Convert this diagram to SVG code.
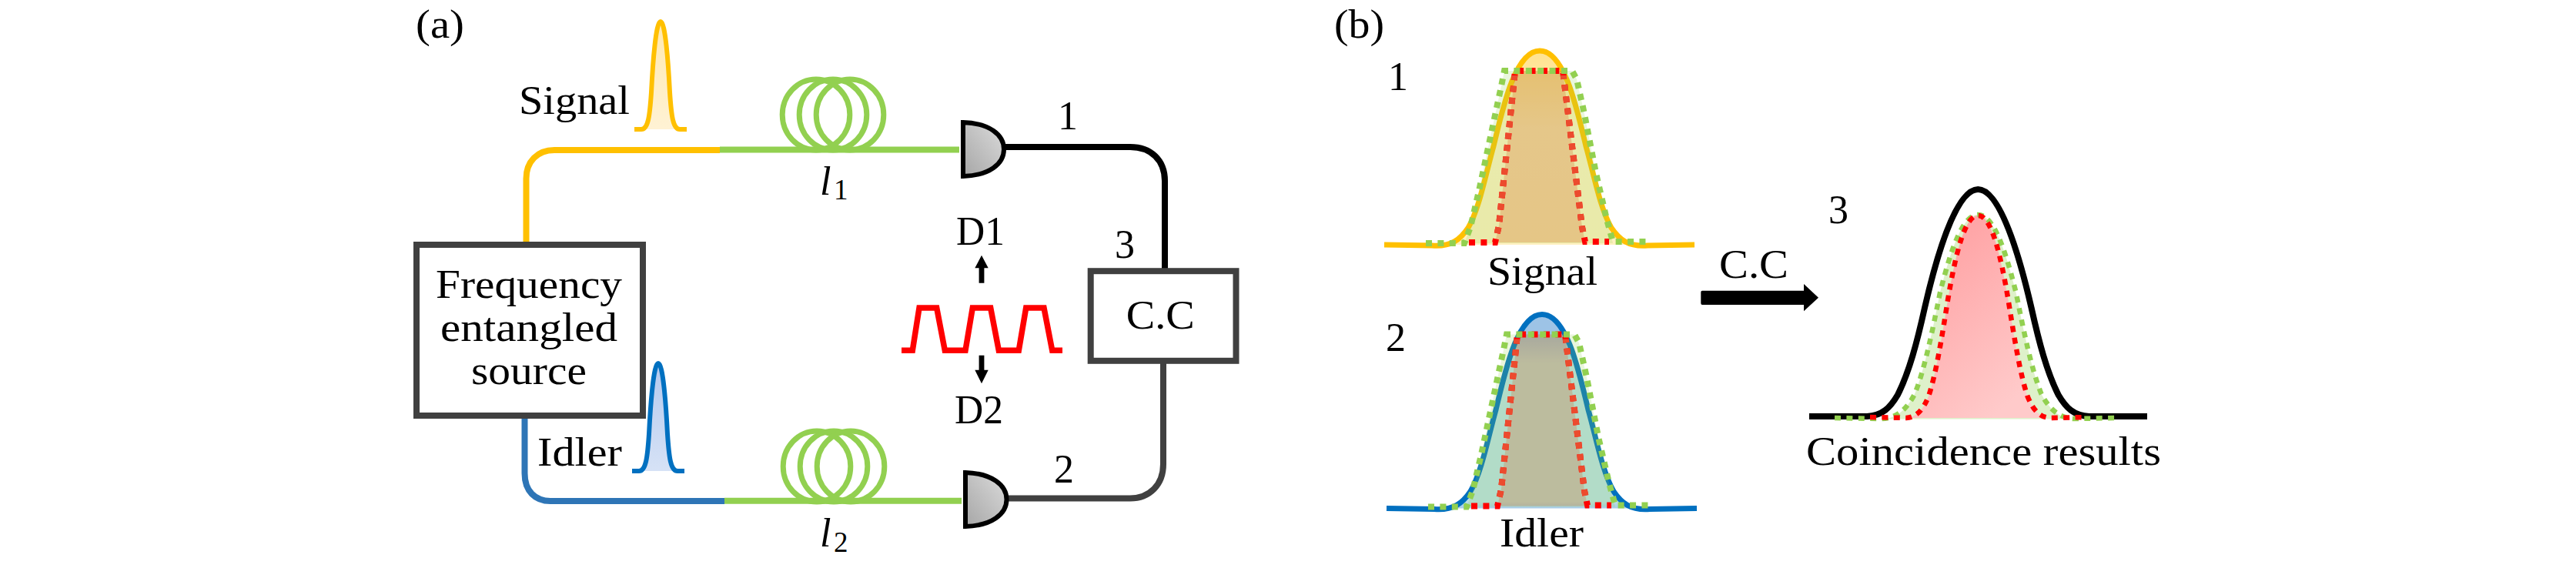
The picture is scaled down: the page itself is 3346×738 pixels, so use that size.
<svg xmlns="http://www.w3.org/2000/svg" width="3346" height="738" viewBox="0 0 3346 738">
<style>
text{font-family:"Liberation Serif","Times New Roman",serif;font-size:52px;fill:#000}
.sub{font-size:37px}
.it{font-style:italic}
.box{fill:#fff;stroke:#404040;stroke-width:8}
.ln{fill:none;stroke-width:8}
.coil{fill:none;stroke:#92d050;stroke-width:7}
.det{fill:url(#gDet);stroke:#000;stroke-width:6}
.gd{fill:none;stroke:#92d050;stroke-width:8;stroke-dasharray:8 7.4}
.rd{fill:none;stroke:#f00;stroke-width:8;stroke-dasharray:8 7.4}
.or{fill:none;stroke:#ec4b2e;stroke-width:8;stroke-dasharray:8 7.4}
.gf{fill:#92d050;fill-opacity:.2;stroke:none}
.rf{fill:#da5a20;fill-opacity:.25;stroke:none}
</style>
<defs>
<linearGradient id="gDet" x1="0" y1="1" x2="1" y2="0"><stop offset="0" stop-color="#a6a6a6"/><stop offset="1" stop-color="#dcdcdc"/></linearGradient>
<linearGradient id="gY" x1="0" y1="0" x2="0" y2="1"><stop offset="0" stop-color="#ffe28f"/><stop offset=".4" stop-color="#fff2c4"/><stop offset="1" stop-color="#fff0c0"/></linearGradient>
<linearGradient id="gB" x1="0" y1="0" x2="0" y2="1"><stop offset="0" stop-color="#9dc3e6"/><stop offset=".12" stop-color="#9dc3e6"/><stop offset=".25" stop-color="#bbdfe6"/><stop offset=".96" stop-color="#bbdfe6"/><stop offset="1" stop-color="#a4c8ea"/></linearGradient>
<linearGradient id="gPY" x1="0" y1="0" x2="0" y2="1"><stop offset="0" stop-color="#ffe9b0"/><stop offset="1" stop-color="#fff2d4"/></linearGradient>
<linearGradient id="gPB" x1="0" y1="0" x2="0" y2="1"><stop offset="0" stop-color="#b4c9ee"/><stop offset="1" stop-color="#d6e2f6"/></linearGradient>
<linearGradient id="gR" x1="0" y1="0" x2=".6" y2="1"><stop offset="0" stop-color="#ff9a9c"/><stop offset="1" stop-color="#ffcaca"/></linearGradient>
<path id="pulse" d="M824 168H833C842 168 844 150 846 120C848 80 852 28 858 28C864 28 868 80 870 120C872 150 874 168 883 168H892"/>
<path id="gauss" d="M1798 318L1860 319C1885 321 1897 311 1907 296C1922 270 1930 225 1940 190C1952 140 1968 66 2000 66C2032 66 2048 140 2060 190C2070 225 2078 270 2093 296C2103 311 2115 321 2140 319L2201 318"/>
<path id="green" d="M1852 316H1902L1910 295L1921 248L1937 173L1950 112L1954 92H2042L2048 103L2058 148L2073 225L2087 285L2095 314H2142"/>
<path id="greenF" d="M1902 316L1910 295L1921 248L1937 173L1950 112L1954 92H2042L2048 103L2058 148L2073 225L2087 285L2095 316Z"/>
<path id="red" d="M1908 315H1942L1947 293L1968 92H2030L2055 295L2059 314H2090"/>
<path id="redF" d="M1942 315L1947 293L1968 92H2030L2055 295L2059 315Z"/>
<clipPath id="mid"><rect x="1800" y="98" width="400" height="206"/></clipPath>
</defs>

<g id="connectors">
<path class="ln" stroke="#ffc000" d="M683.5 314V232C683.5 210 698 195 720 195H935"/>
<path class="ln" stroke="#92d050" d="M935 194.5H1246"/>
<path class="ln" stroke="#2e75b6" d="M681.5 544V615C681.5 638 695 651 715 651H941"/>
<path class="ln" stroke="#92d050" d="M941 650.7H1249"/>
<path class="ln" stroke="#000" d="M1304 191H1468C1495 191 1513 208 1513 235V349"/>
<path class="ln" stroke="#404040" d="M1308 647.5H1468C1493 647.5 1511 630 1511 603V472"/>
</g>

<g id="panel-a-label"><text x="540" y="49" textLength="63" lengthAdjust="spacingAndGlyphs">(a)</text></g>

<g id="source">
<rect class="box" x="541" y="318" width="294" height="222" stroke-width="8.5"/>
<text x="566" y="387" textLength="242" lengthAdjust="spacingAndGlyphs">Frequency</text>
<text x="572" y="443" textLength="230" lengthAdjust="spacingAndGlyphs">entangled</text>
<text x="612" y="499" textLength="150" lengthAdjust="spacingAndGlyphs">source</text>
</g>

<g id="signal-pulse">
<use href="#pulse" fill="url(#gPY)" stroke="#ffc000" stroke-width="6"/>
<text x="674" y="148" textLength="144" lengthAdjust="spacingAndGlyphs">Signal</text>
</g>
<g id="idler-pulse">
<use href="#pulse" transform="translate(-3,444)" fill="url(#gPB)" stroke="#0070c0" stroke-width="6"/>
<text x="698" y="605" textLength="110" lengthAdjust="spacingAndGlyphs">Idler</text>
</g>

<g id="coil-1">
<ellipse class="coil" cx="1060" cy="149" rx="43.8" ry="46"/>
<ellipse class="coil" cx="1082" cy="149" rx="43.8" ry="46"/>
<ellipse class="coil" cx="1104" cy="149" rx="43.8" ry="46"/>
<text class="it" x="1065" y="252.7">l</text><text class="sub" x="1083" y="258.5">1</text>
</g>
<g id="coil-2">
<ellipse class="coil" cx="1061" cy="606" rx="43.8" ry="46"/>
<ellipse class="coil" cx="1083" cy="606" rx="43.8" ry="46"/>
<ellipse class="coil" cx="1105" cy="606" rx="43.8" ry="46"/>
<text class="it" x="1065" y="710">l</text><text class="sub" x="1083" y="716.5">2</text>
</g>

<g id="detector-1">
<path class="det" d="M1251 159V229C1285 228 1304 213 1304 194C1304 175 1285 160 1251 159Z"/>
<text x="1374" y="167.7">1</text>
</g>
<g id="detector-2">
<path class="det" d="M1254 614V684C1288 683 1307.5 668 1307.5 649C1307.5 630 1288 615 1254 614Z"/>
<text x="1369" y="626.7">2</text>
</g>

<g id="cc">
<rect class="box" x="1416.7" y="352.2" width="188.8" height="116.6"/>
<text x="1462.7" y="426.7" textLength="89" lengthAdjust="spacingAndGlyphs">C.C</text>
<text x="1448" y="335">3</text>
</g>

<g id="wave">
<path fill="none" stroke="#f00" stroke-width="7.5" d="M1171 455.3H1185.3L1194 400H1216.7L1227.3 455.3H1254L1263.3 400H1286.7L1297.3 455.3H1323.3L1332.7 400H1356L1366.7 455.3H1380"/>
<path d="M1275 331.7L1283.7 348.3H1278.4V367.7H1271.6V348.3H1266.3Z"/>
<path d="M1275 498.3L1283.7 480.7H1278.4V461.7H1271.6V480.7H1266.3Z"/>
<text x="1242" y="317.7" textLength="63" lengthAdjust="spacingAndGlyphs">D1</text>
<text x="1240" y="550" textLength="63" lengthAdjust="spacingAndGlyphs">D2</text>
</g>

<g id="panel-b-label"><text x="1733" y="49" textLength="65" lengthAdjust="spacingAndGlyphs">(b)</text></g>

<g id="curve-signal">
<use href="#gauss" fill="url(#gY)" stroke="#ffc000" stroke-width="7"/>
<use href="#greenF" class="gf"/>
<use href="#redF" class="rf"/>
<use href="#red" class="rd"/>
<use href="#red" class="or" clip-path="url(#mid)"/>
<use href="#green" class="gd"/>
<text x="1803" y="117">1</text>
<text x="1932" y="370" textLength="143" lengthAdjust="spacingAndGlyphs">Signal</text>
</g>

<g id="curve-idler">
<g transform="translate(3,342.5)">
<use href="#gauss" fill="url(#gB)" stroke="#0070c0" stroke-width="7"/>
<use href="#greenF" class="gf"/>
<use href="#redF" class="rf"/>
<use href="#red" class="rd"/>
<use href="#red" class="or" clip-path="url(#mid)"/>
<use href="#green" class="gd"/>
</g>
<text x="1800" y="456">2</text>
<text x="1948" y="710" textLength="109" lengthAdjust="spacingAndGlyphs">Idler</text>
</g>

<g id="cc-arrow">
<path d="M2211 377.7H2343V369L2362 386.7L2343 404.3V396H2211Q2209.3 396 2209.3 394V379.7Q2209.3 377.7 2211 377.7Z"/>
<text x="2233" y="360.7" textLength="90" lengthAdjust="spacingAndGlyphs">C.C</text>
</g>

<g id="curve-coincidence">
<path fill="#fff" stroke="#000" stroke-width="8" d="M2350 541L2425 541C2445 540 2455 530 2465 513C2480 483 2490 445 2500 400C2515 335 2540 246 2569.3 246C2598.6 246 2623.6 335 2638.6 400C2648.6 445 2658.6 483 2673.6 513C2683.6 530 2693.6 540 2713.6 541L2789 541"/>
<path fill="#92d050" fill-opacity=".3" d="M2443 544.5C2460 545 2475 535 2487 512C2500 480 2510 430 2520 380C2535 320 2550 279 2569.3 279C2588.6 279 2603.6 320 2618.6 380C2628.6 430 2638.6 480 2651.6 512C2663.6 535 2678.6 545 2695.6 544.5Z"/>
<path fill="url(#gR)" d="M2476 543C2490 542 2498 532 2505 515C2515 485 2522 440 2530 390C2540 330 2552 280 2569.3 280C2586.6 280 2598.6 330 2608.6 390C2616.6 440 2623.6 485 2633.6 515C2640.6 532 2648.6 542 2662.6 543Z"/>
<path class="gd" style="stroke-width:6.5" d="M2383 543L2440 544C2460 545 2475 535 2487 512C2500 480 2510 430 2520 380C2535 320 2550 279 2569.3 279C2588.6 279 2603.6 320 2618.6 380C2628.6 430 2638.6 480 2651.6 512C2663.6 535 2678.6 545 2698.6 544L2749 543"/>
<path class="rd" style="stroke-width:6.5" d="M2429 542L2476 543C2490 542 2498 532 2505 515C2515 485 2522 440 2530 390C2540 330 2552 280 2569.3 280C2586.6 280 2598.6 330 2608.6 390C2616.6 440 2623.6 485 2633.6 515C2640.6 532 2648.6 542 2662.6 543L2711 542"/>
<text x="2375" y="290">3</text>
<text x="2346" y="604" textLength="461" lengthAdjust="spacingAndGlyphs">Coincidence results</text>
</g>
</svg>
